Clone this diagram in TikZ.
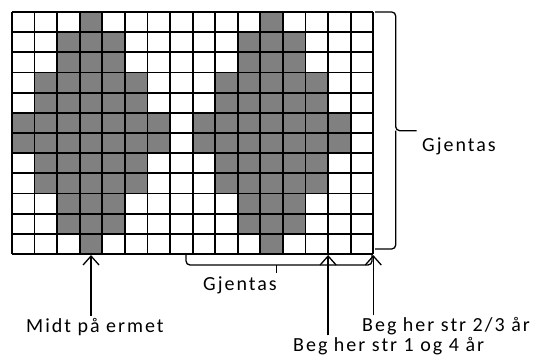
\documentclass[tikz,border=0pt]{standalone}
\usepackage{fontspec}
\setmainfont{Carlito}[LetterSpace=10]
\usetikzlibrary{positioning,arrows.meta,calc}

\definecolor{cellgray}{RGB}{128,128,128}

\begin{document}
\begin{tikzpicture}[
    x=1pt, y=-1pt,
    gridline/.style={black,line width=1.8pt},
    cellfill/.style={fill=cellgray},
    brace/.style   ={black,line width=1.3pt,rounded corners=4pt},
    pass/.style    ={-{Straight Barb[length=9pt,width=16pt,line width=1.3pt]},black,line width=1.3pt},
    lbl/.style     ={font=\fontsize{20}{22}\selectfont,inner xsep=0pt,inner ysep=2pt,anchor=base west}
]
\useasboundingbox (0,0) rectangle (537,356);

\def\cellw{22.58}
\def\cellh{20.17}

% pattern, two motifs at columns 3 and 11
\begin{scope}[shift={(12,12)}]
  \foreach \r/\w in {0/0,1/1,2/1,3/2,4/2,5/3,6/3,7/2,8/2,9/1,10/1,11/0}
    \foreach \c in {3,11}
      \fill[cellfill] ({(\c-\w)*\cellw},{\r*\cellh}) rectangle ({(\c+\w+1)*\cellw},{(\r+1)*\cellh});
  \foreach \i in {0,...,16}
    \draw[gridline] ({\i*\cellw},0) -- ({\i*\cellw},{12*\cellh});
  \foreach \j in {0,...,12}
    \draw[gridline] (0,{\j*\cellh}) -- ({16*\cellw},{\j*\cellh});
  \coordinate (midt)  at ({3.5*\cellw},{12*\cellh+1});
  \coordinate (str14) at ({14*\cellw},{12*\cellh+1});
  \coordinate (str23) at ({16*\cellw},{12*\cellh+1});
\end{scope}

% right brace
\coordinate (repTop) at (375,12);
\coordinate (repBot) at (375,249);
\coordinate (repTip) at (416.7,130.7);
\draw[brace] (repTop) -| (395.7,130.7) -- (repTip);
\draw[brace] (repBot) -| (395.7,130.7);
\node[lbl] (repRlbl) at (422,151.7) {Gjentas};

% bottom brace
\coordinate (repL)   at (186,254);
\coordinate (repR)   at (372,255);
\coordinate (repMid) at (276.7,273);
\draw[brace] (repL) |- (repR |- 0,265) -- (repR);
\draw[black,line width=1.3pt] (repMid |- 0,265) -- (repMid);
\node[lbl] (repBlbl) at (203,290) {Gjentas};

% labels and arrows
\node[lbl] (midtlbl)  at (26,332)    {Midt på ermet};
\node[lbl] (str23lbl) at (362,331.7) {Beg her str 2/3 år};
\node[lbl] (str14lbl) at (293,351.7) {Beg her str 1 og 4 år};

\draw[pass] (midtlbl.north -| midt)   -- (midt);
\draw[pass] (str14lbl.north -| str14) -- (str14);
\draw[pass] (str23lbl.north -| str23) -- (str23);

\end{tikzpicture}
\end{document}
